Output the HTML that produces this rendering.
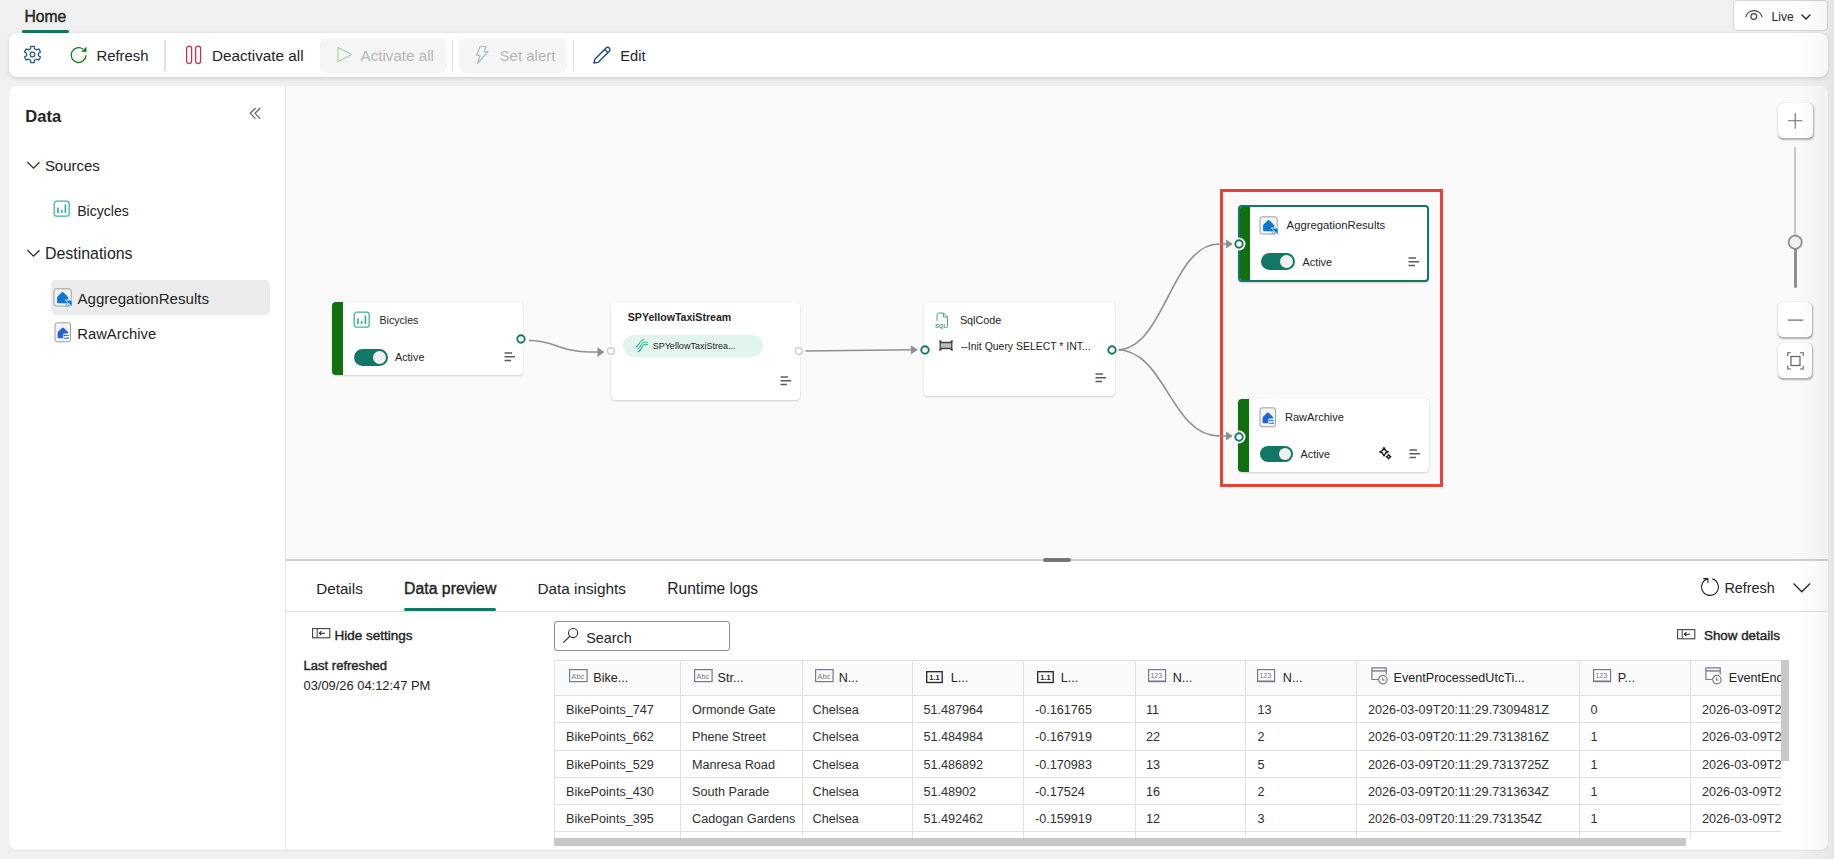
<!DOCTYPE html>
<html><head><meta charset="utf-8"><style>
html,body{margin:0;padding:0;}
body{width:1834px;height:859px;overflow:hidden;background:#f0f0f0;position:relative;font-family:"Liberation Sans", sans-serif;}
.a{position:absolute;}
.t{position:absolute;white-space:nowrap;line-height:1;}
svg.a{overflow:visible;}
</style></head><body>
<div class="t" style="left:24.5px;top:9px;font-size:15.7px;-webkit-text-stroke:0.4px #242424;color:#242424;">Home</div>
<div class="a" style="left:22px;top:30px;width:47px;height:3px;background:#117865;border-radius:2px;"></div>
<div class="a" style="left:1733px;top:0px;width:95px;height:31px;background:#fff;border:1px solid #d6d6d6;box-sizing:border-box;border-radius:4px;"></div>
<svg class="a" style="left:1744px;top:8px;" width="20" height="14" viewBox="0 0 20 14"><path d="M1.7 9.2 A8.4 8.4 0 0 1 18.1 9.2" fill="none" stroke="#424242" stroke-width="1.15"/><circle cx="9.8" cy="8.5" r="2.9" fill="none" stroke="#424242" stroke-width="1.15"/></svg>
<div class="t" style="left:1771.6px;top:11px;font-size:12px;color:#242424;">Live</div>
<svg class="a" style="left:1800px;top:13px;" width="12" height="8" viewBox="0 0 12 8"><path d="M1.5 1.5 L6 6 L10.5 1.5" fill="none" stroke="#242424" stroke-width="1.3"/></svg>
<div class="a" style="left:9px;top:33px;width:1819px;height:44px;background:#fff;border-radius:8px;box-shadow:0 2px 4px rgba(0,0,0,0.10),0 0 2px rgba(0,0,0,0.08);"></div>
<svg class="a" style="left:22.1px;top:44.1px;" width="21" height="21" viewBox="0 0 21 21"><path d="M13.50 5.30 L12.45 4.83 L12.25 2.28 L8.75 2.28 L8.55 4.83 L7.50 5.30 L6.56 5.97 L4.26 4.88 L2.51 7.90 L4.61 9.36 L4.50 10.50 L4.61 11.64 L2.51 13.10 L4.26 16.12 L6.56 15.03 L7.50 15.70 L8.55 16.17 L8.75 18.72 L12.25 18.72 L12.45 16.17 L13.50 15.70 L14.44 15.03 L16.74 16.12 L18.49 13.10 L16.39 11.64 L16.50 10.50 L16.39 9.36 L18.49 7.90 L16.74 4.88 L14.44 5.97 Z" fill="none" stroke="#235891" stroke-width="1.25" stroke-linejoin="round"/><circle cx="10.5" cy="10.5" r="2.3" fill="none" stroke="#235891" stroke-width="1.25"/></svg>
<svg class="a" style="left:70.3px;top:46px;" width="18" height="18" viewBox="0 0 18 18"><path d="M16 9.4 A7.4 7.4 0 1 1 13.2 3.3" fill="none" stroke="#107c10" stroke-width="1.3"/><path d="M16.3 1.3 L16.1 5.7 L11.8 5.5 Z" fill="#107c10" stroke="#107c10" stroke-width="0.6" stroke-linejoin="round"/></svg>
<div class="t" style="left:96.4px;top:49px;font-size:14.9px;color:#242424;">Refresh</div>
<div class="a" style="left:164px;top:40px;width:2px;height:31px;background:#e0e0e0;"></div>
<svg class="a" style="left:185px;top:45px;" width="18" height="20" viewBox="0 0 18 20"><rect x="1.6" y="1.2" width="5" height="17.4" rx="2.5" fill="none" stroke="#c4314b" stroke-width="1.3"/><rect x="10.6" y="1.2" width="5" height="17.4" rx="2.5" fill="none" stroke="#c4314b" stroke-width="1.3"/></svg>
<div class="t" style="left:211.9px;top:48px;font-size:15.29px;color:#242424;">Deactivate all</div>
<div class="a" style="left:320px;top:38px;width:127px;height:35px;background:#f5f5f5;border-radius:6px;"></div>
<svg class="a" style="left:336px;top:46px;" width="18" height="18" viewBox="0 0 18 18"><path d="M2 1.5 L15.5 8.5 L2 15.8 Z" fill="none" stroke="#a3d3a3" stroke-width="1.1" stroke-linejoin="round"/></svg>
<div class="t" style="left:360.5px;top:48px;font-size:15.2px;color:#b5b5b5;">Activate all</div>
<div class="a" style="left:452px;top:40px;width:1px;height:31px;background:#e0e0e0;"></div>
<div class="a" style="left:459px;top:38px;width:108px;height:35px;background:#f5f5f5;border-radius:6px;"></div>
<svg class="a" style="left:474px;top:45px;" width="16" height="20" viewBox="0 0 16 20"><path d="M6 1.5 L12 1.5 L10.2 6.5 L14 6.5 L3.5 18.5 L6 10.5 L2.5 10.5 Z" fill="none" stroke="#a8bcd4" stroke-width="1.2" stroke-linejoin="round"/></svg>
<div class="t" style="left:499.6px;top:48px;font-size:15.0px;color:#b5b5b5;">Set alert</div>
<div class="a" style="left:573px;top:40px;width:1px;height:31px;background:#e0e0e0;"></div>
<svg class="a" style="left:592px;top:45px;" width="20" height="20" viewBox="0 0 20 20"><path d="M2 18 L2.8 14.2 L14.3 2.7 A2.3 2.3 0 0 1 17.5 5.9 L6 17.4 Z" fill="none" stroke="#1c4a82" stroke-width="1.4" stroke-linejoin="round"/><path d="M12.6 4.4 L15.8 7.6" stroke="#1c4a82" stroke-width="1.4"/></svg>
<div class="t" style="left:620.3px;top:49px;font-size:14.6px;color:#242424;">Edit</div>
<div class="a" style="left:9px;top:86px;width:1819px;height:764px;background:#fff;border-radius:8px;box-shadow:0 1px 1.5px rgba(0,0,0,0.06),0 0 1px rgba(0,0,0,0.05);"></div>
<div class="a" style="left:9px;top:86px;width:277px;height:764px;background:#fff;border-radius:8px 0 0 8px;border-right:1px solid #e3e3e3;box-sizing:border-box;"></div>
<div class="t" style="left:25.3px;top:108px;font-size:16.5px;font-weight:bold;color:#242424;">Data</div>
<svg class="a" style="left:248px;top:106px;" width="15" height="15" viewBox="0 0 15 15"><path d="M7.5 2 L2.3 7.3 L7.5 12.6 M12.2 2 L7 7.3 L12.2 12.6" fill="none" stroke="#616161" stroke-width="1.2"/></svg>
<svg class="a" style="left:26px;top:158.5px;" width="16" height="12" viewBox="0 0 16 12"><path d="M1.3 3 L7.5 9.2 L13.5 3.2" fill="none" stroke="#2b2b2b" stroke-width="1.25"/></svg>
<div class="t" style="left:44.9px;top:159px;font-size:14.96px;color:#242424;">Sources</div>
<svg class="a" style="left:53px;top:200px;" width="18" height="18" viewBox="0 0 18 18"><rect x="1.2" y="1.2" width="15" height="15" rx="2.5" fill="none" stroke="#3fb6a0" stroke-width="1.3"/><path d="M5 7.5 V13 M8.7 10 V13 M12.4 4.5 V13" stroke="#33a99a" stroke-width="1.6"/></svg>
<div class="t" style="left:77.2px;top:204px;font-size:14.1px;color:#242424;">Bicycles</div>
<svg class="a" style="left:26px;top:246.5px;" width="16" height="12" viewBox="0 0 16 12"><path d="M1.3 3 L7.5 9.2 L13.5 3.2" fill="none" stroke="#2b2b2b" stroke-width="1.25"/></svg>
<div class="t" style="left:44.9px;top:246px;font-size:15.94px;color:#242424;">Destinations</div>
<div class="a" style="left:51px;top:280px;width:219px;height:35px;background:#ebebeb;border-radius:5px;"></div>
<svg class="a" style="left:52.5px;top:287.5px;" width="21" height="21" viewBox="0 0 21 21"><rect x="1" y="0.8" width="17.2" height="17.2" rx="2.2" fill="#f3f3f3" stroke="#9e9e9e" stroke-width="1"/><path d="M4.1 9.8 Q4.1 8.9 4.8 8.2 L8.6 4.5 Q9.6 3.5 10.6 4.5 L14.4 8.2 Q15.1 8.9 15.1 9.8 V14.3 Q15.1 15.3 14.1 15.3 H5.1 Q4.1 15.3 4.1 14.3 Z" fill="#0a78d4"/><path d="M12.2 12 H19.2 V19 Z" fill="#0a78d4" stroke="#fff" stroke-width="0.8" stroke-linejoin="round"/><path d="M12.4 15.2 L14 16.8 L12.4 18.4 M14.6 15.2 L16.2 16.8 L14.6 18.4" fill="none" stroke="#2f8ee0" stroke-width="0.8"/></svg>
<div class="t" style="left:77.5px;top:291px;font-size:15.07px;color:#242424;">AggregationResults</div>
<svg class="a" style="left:53.5px;top:322px;" width="21" height="21" viewBox="0 0 21 21"><rect x="1" y="0.8" width="15.5" height="19" rx="2.2" fill="#f3f3f3" stroke="#9e9e9e" stroke-width="1"/><path d="M3.6 11 Q3.6 10.1 4.3 9.4 L7.9 6 Q8.9 5 9.9 6 L13.5 9.4 Q14.2 10.1 14.2 11 V15.2 Q14.2 16.2 13.2 16.2 H4.6 Q3.6 16.2 3.6 15.2 Z" fill="#2463d8"/><rect x="9.2" y="11.6" width="6" height="6.2" rx="1" fill="#fff"/><path d="M9.8 13.4 H14.8 M9.8 16.2 H14.8" stroke="#2463d8" stroke-width="1"/><path d="M10.4 12.6 V14.2 M13.8 15.4 V17" stroke="#2463d8" stroke-width="0.8"/></svg>
<div class="t" style="left:77.3px;top:327px;font-size:14.79px;color:#242424;">RawArchive</div>
<div class="a" style="left:286px;top:86px;width:1542px;height:473px;background:#fafafa;border-radius:0 8px 0 0;"></div>
<div class="a" style="left:332px;top:302px;width:191px;height:73px;background:#fff;border-radius:4px;box-shadow:0 1px 2px rgba(0,0,0,0.16),0 0 1px rgba(0,0,0,0.10);"></div>
<div class="a" style="left:332px;top:302px;width:11px;height:73px;background:#107010;border-radius:4px 0 0 4px;"></div>
<svg class="a" style="left:353px;top:311px;" width="18" height="18" viewBox="0 0 18 18"><rect x="1.2" y="1.2" width="15" height="15" rx="2.5" fill="none" stroke="#3fb6a0" stroke-width="1.3"/><path d="M5 7.5 V13 M8.7 10 V13 M12.4 4.5 V13" stroke="#33a99a" stroke-width="1.6"/></svg>
<div class="t" style="left:379.5px;top:315px;font-size:10.6px;color:#242424;">Bicycles</div>
<div class="a" style="left:354px;top:349px;width:34px;height:17px;background:#117865;border-radius:9px;"></div>
<div class="a" style="left:373px;top:351px;width:13px;height:13px;background:#f0f0f0;border-radius:50%;"></div>
<div class="t" style="left:395.0px;top:352px;font-size:10.8px;color:#242424;">Active</div>
<svg class="a" style="left:504px;top:352px;" width="12" height="10" viewBox="0 0 12 10"><path d="M0.5 1 H8 M0.5 4.7 H11 M0.5 8.4 H7" stroke="#5c5c5c" stroke-width="1.5"/></svg>
<div class="a" style="left:611px;top:302px;width:189px;height:98px;background:#fff;border-radius:4px;box-shadow:0 1px 2px rgba(0,0,0,0.16),0 0 1px rgba(0,0,0,0.10);"></div>
<div class="t" style="left:627.8px;top:312px;font-size:10.6px;font-weight:bold;color:#242424;">SPYellowTaxiStream</div>
<div class="a" style="left:623px;top:335px;width:140px;height:22px;background:#e2f4ee;border-radius:11px;"></div>
<svg class="a" style="left:630px;top:336px;" width="20" height="20" viewBox="0 0 20 20"><defs><linearGradient id="sg" x1="0" y1="0" x2="0" y2="1"><stop offset="0" stop-color="#2cc78a"/><stop offset="1" stop-color="#1ea5a5"/></linearGradient></defs><g fill="none" stroke="url(#sg)" stroke-width="1.1" stroke-linecap="round"><path d="M6 11 C8.6 11, 9.2 3.9, 14 3.8"/><path d="M8 13 C10.6 12.6, 11 6.3, 13.5 6.3 L17.6 6.3"/><path d="M8.2 15.6 C11.4 15.2, 12.3 8.5, 14.5 8.5 L17.6 8.5"/></g></svg>
<div class="t" style="left:652.7px;top:342px;font-size:9.0px;color:#242424;">SPYellowTaxiStrea...</div>
<svg class="a" style="left:780px;top:376px;" width="12" height="10" viewBox="0 0 12 10"><path d="M0.5 1 H8 M0.5 4.7 H11 M0.5 8.4 H7" stroke="#5c5c5c" stroke-width="1.5"/></svg>
<div class="a" style="left:924px;top:302px;width:191px;height:94px;background:#fff;border-radius:4px;box-shadow:0 1px 2px rgba(0,0,0,0.16),0 0 1px rgba(0,0,0,0.10);"></div>
<svg class="a" style="left:934px;top:312px;" width="16" height="17" viewBox="0 0 16 17"><path d="M3 9 V2.5 Q3 1, 4.5 1 H9.5 L13.5 5 V14.5 Q13.5 15.5, 12.5 15.5 H12" fill="none" stroke="#45a597" stroke-width="1"/><path d="M9.5 1 V5 H13.5" fill="none" stroke="#45a597" stroke-width="1"/><text x="1" y="15.6" font-size="5.8" font-family="Liberation Sans" font-weight="bold" fill="#3a9d8f">SQL</text></svg>
<div class="t" style="left:959.9px;top:315px;font-size:10.8px;color:#242424;">SqlCode</div>
<svg class="a" style="left:938px;top:340px;" width="16" height="11" viewBox="0 0 16 11"><rect x="2" y="2.5" width="12" height="6" fill="#bdbdbd"/><path d="M2.2 1 V10 M13.8 1 V10 M1 1.2 H3.5 M1 9.8 H3.5 M12.5 1.2 H15 M12.5 9.8 H15 M2.2 2.5 H13.8 M2.2 8.5 H13.8" fill="none" stroke="#424242" stroke-width="1.3"/></svg>
<div class="t" style="left:960.9px;top:342px;font-size:10.45px;color:#242424;">--Init Query SELECT * INT...</div>
<svg class="a" style="left:1095px;top:373px;" width="12" height="10" viewBox="0 0 12 10"><path d="M0.5 1 H8 M0.5 4.7 H11 M0.5 8.4 H7" stroke="#5c5c5c" stroke-width="1.5"/></svg>
<div class="a" style="left:1238px;top:205px;width:191px;height:77px;background:#fff;border-radius:4px;border:2px solid #117865;box-sizing:border-box;box-shadow:0 1px 2px rgba(0,0,0,0.16),0 0 1px rgba(0,0,0,0.10);"></div>
<div class="a" style="left:1240px;top:207px;width:10px;height:73px;background:#107010;border-radius:2px 0 0 2px;"></div>
<svg class="a" style="left:1259px;top:215.6px;" width="21" height="21" viewBox="0 0 21 21"><rect x="1" y="0.8" width="17.2" height="17.2" rx="2.2" fill="#f3f3f3" stroke="#9e9e9e" stroke-width="1"/><path d="M4.1 9.8 Q4.1 8.9 4.8 8.2 L8.6 4.5 Q9.6 3.5 10.6 4.5 L14.4 8.2 Q15.1 8.9 15.1 9.8 V14.3 Q15.1 15.3 14.1 15.3 H5.1 Q4.1 15.3 4.1 14.3 Z" fill="#0a78d4"/><path d="M12.2 12 H19.2 V19 Z" fill="#0a78d4" stroke="#fff" stroke-width="0.8" stroke-linejoin="round"/><path d="M12.4 15.2 L14 16.8 L12.4 18.4 M14.6 15.2 L16.2 16.8 L14.6 18.4" fill="none" stroke="#2f8ee0" stroke-width="0.8"/></svg>
<div class="t" style="left:1286.6px;top:220px;font-size:11.3px;color:#242424;">AggregationResults</div>
<div class="a" style="left:1261px;top:253px;width:34px;height:17px;background:#117865;border-radius:9px;"></div>
<div class="a" style="left:1280px;top:255px;width:13px;height:13px;background:#f0f0f0;border-radius:50%;"></div>
<div class="t" style="left:1302.6px;top:257px;font-size:10.8px;color:#242424;">Active</div>
<svg class="a" style="left:1408px;top:257px;" width="12" height="10" viewBox="0 0 12 10"><path d="M0.5 1 H8 M0.5 4.7 H11 M0.5 8.4 H7" stroke="#5c5c5c" stroke-width="1.5"/></svg>
<div class="a" style="left:1238px;top:399px;width:191px;height:73px;background:#fff;border-radius:4px;box-shadow:0 1px 2px rgba(0,0,0,0.16),0 0 1px rgba(0,0,0,0.10);"></div>
<div class="a" style="left:1238px;top:399px;width:11px;height:73px;background:#107010;border-radius:4px 0 0 4px;"></div>
<svg class="a" style="left:1258.5px;top:406.5px;" width="21" height="21" viewBox="0 0 21 21"><rect x="1" y="0.8" width="15.5" height="19" rx="2.2" fill="#f3f3f3" stroke="#9e9e9e" stroke-width="1"/><path d="M3.6 11 Q3.6 10.1 4.3 9.4 L7.9 6 Q8.9 5 9.9 6 L13.5 9.4 Q14.2 10.1 14.2 11 V15.2 Q14.2 16.2 13.2 16.2 H4.6 Q3.6 16.2 3.6 15.2 Z" fill="#2463d8"/><rect x="9.2" y="11.6" width="6" height="6.2" rx="1" fill="#fff"/><path d="M9.8 13.4 H14.8 M9.8 16.2 H14.8" stroke="#2463d8" stroke-width="1"/><path d="M10.4 12.6 V14.2 M13.8 15.4 V17" stroke="#2463d8" stroke-width="0.8"/></svg>
<div class="t" style="left:1285.0px;top:412px;font-size:11.06px;color:#242424;">RawArchive</div>
<div class="a" style="left:1260px;top:445.6px;width:33px;height:16.5px;background:#117865;border-radius:9px;"></div>
<div class="a" style="left:1278.5px;top:447.6px;width:12.5px;height:12.5px;background:#f0f0f0;border-radius:50%;"></div>
<div class="t" style="left:1300.6px;top:449px;font-size:10.8px;color:#242424;">Active</div>
<svg class="a" style="left:1379px;top:446px;" width="13" height="14" viewBox="0 0 13 14"><path d="M5 1.6 L6.6 4.6 L9.2 5.8 L6.6 7.0 L5 10 L3.4 7.0 L0.8 5.8 L3.4 4.6 Z" fill="none" stroke="#1a1a1a" stroke-width="1.4" stroke-linejoin="round"/><path d="M9.6 8.6 L10.6 10 L11.9 10.7 L10.6 11.4 L9.6 12.8 L8.6 11.4 L7.3 10.7 L8.6 10 Z" fill="none" stroke="#1a1a1a" stroke-width="1.3" stroke-linejoin="round"/></svg>
<svg class="a" style="left:1409px;top:449px;" width="12" height="10" viewBox="0 0 12 10"><path d="M0.5 1 H8 M0.5 4.7 H11 M0.5 8.4 H7" stroke="#5c5c5c" stroke-width="1.5"/></svg>
<div class="a" style="left:1220px;top:189px;width:223px;height:298px;border:3px solid #e8433b;box-sizing:border-box;"></div>
<svg class="a" style="left:0;top:0" width="1834" height="859"><g fill="none" stroke="#8f8f8f" stroke-width="1.6"><path d="M529 340.5 C555 340.5, 560 352, 590 352 L600 352"/><path d="M804 351 L915 349.8"/><path d="M1117 349.7 C1165 349.7, 1171 244, 1219 244 L1228 244"/><path d="M1117 349.7 C1165 349.7, 1171 436, 1219 436 L1228 436"/></g><g fill="#8f8f8f"><path d="M597.5 347.3 L604.2 352.1 L597.5 356.9 Z"/><path d="M911 345.5 L918 349.8 L911 354.3 Z"/><path d="M1226 239.5 L1233 244 L1226 248.5 Z"/><path d="M1226 431.5 L1233 436 L1226 440.5 Z"/></g></svg>
<svg class="a" style="left:514.2px;top:332.2px;" width="14" height="14" viewBox="0 0 14 14"><circle cx="7" cy="7" r="6.5" fill="#fff"/><circle cx="7" cy="7" r="3.7" fill="#fff" stroke="#117865" stroke-width="1.9"/></svg>
<svg class="a" style="left:603.7px;top:344px;" width="14" height="14" viewBox="0 0 14 14"><circle cx="7" cy="7" r="6.5" fill="#fff"/><circle cx="7" cy="7" r="3.45" fill="#fff" stroke="#c8c8c8" stroke-width="1.3"/></svg>
<svg class="a" style="left:791.5px;top:344.1px;" width="14" height="14" viewBox="0 0 14 14"><circle cx="7" cy="7" r="6.5" fill="#fff"/><circle cx="7" cy="7" r="3.45" fill="#fff" stroke="#c8c8c8" stroke-width="1.3"/></svg>
<svg class="a" style="left:917.8px;top:342.7px;" width="14" height="14" viewBox="0 0 14 14"><circle cx="7" cy="7" r="6.5" fill="#fff"/><circle cx="7" cy="7" r="3.7" fill="#fff" stroke="#117865" stroke-width="1.9"/></svg>
<svg class="a" style="left:1105.4px;top:342.7px;" width="14" height="14" viewBox="0 0 14 14"><circle cx="7" cy="7" r="6.5" fill="#fff"/><circle cx="7" cy="7" r="3.7" fill="#fff" stroke="#117865" stroke-width="1.9"/></svg>
<svg class="a" style="left:1232.2px;top:236.8px;" width="14" height="14" viewBox="0 0 14 14"><circle cx="7" cy="7" r="6.5" fill="#fff"/><circle cx="7" cy="7" r="3.7" fill="#fff" stroke="#117865" stroke-width="1.9"/></svg>
<svg class="a" style="left:1232.3px;top:429.6px;" width="14" height="14" viewBox="0 0 14 14"><circle cx="7" cy="7" r="6.5" fill="#fff"/><circle cx="7" cy="7" r="3.7" fill="#fff" stroke="#117865" stroke-width="1.9"/></svg>
<div class="a" style="left:1778px;top:103px;width:35px;height:35px;background:#fff;border-radius:5px;box-shadow:0.5px 1.2px 2px rgba(0,0,0,0.30),0 0 1px rgba(0,0,0,0.12);"></div>
<svg class="a" style="left:1786px;top:111px;" width="18" height="18" viewBox="0 0 18 18"><path d="M9.2 2 V17.8 M2 9.8 H16.3" stroke="#6b6b6b" stroke-width="1.1"/></svg>
<div class="a" style="left:1794px;top:147px;width:2px;height:89px;background:#c8c8c8;"></div>
<div class="a" style="left:1793.7px;top:247px;width:3.0px;height:41px;background:#8f8f8f;border-radius:1.5px;"></div>
<svg class="a" style="left:1787px;top:234px;" width="17" height="17" viewBox="0 0 17 17"><circle cx="8.2" cy="8.2" r="6.6" fill="#f0f0f0" stroke="#8f8f8f" stroke-width="1.8"/></svg>
<div class="a" style="left:1778px;top:302px;width:34px;height:35px;background:#fff;border-radius:5px;box-shadow:0.5px 1.2px 2px rgba(0,0,0,0.30),0 0 1px rgba(0,0,0,0.12);"></div>
<svg class="a" style="left:1786px;top:311px;" width="18" height="18" viewBox="0 0 18 18"><path d="M1.7 9.1 H17.2" stroke="#6b6b6b" stroke-width="1.2"/></svg>
<div class="a" style="left:1778px;top:343px;width:34px;height:35px;background:#fff;border-radius:5px;box-shadow:0.5px 1.2px 2px rgba(0,0,0,0.30),0 0 1px rgba(0,0,0,0.12);"></div>
<svg class="a" style="left:1786px;top:351px;" width="18" height="19" viewBox="0 0 18 19"><path d="M1.7 5 V1.8 H4.9 M14 1.8 H17.2 V5 M17.2 14.8 V18 H14 M4.9 18 H1.7 V14.8" fill="none" stroke="#616161" stroke-width="1.1"/><rect x="5" y="5.5" width="9" height="9" fill="none" stroke="#616161" stroke-width="1.2"/></svg>
<div class="a" style="left:286px;top:559px;width:1542px;height:2px;background:#d1d1d1;"></div>
<div class="a" style="left:286px;top:561px;width:1542px;height:289px;background:#fff;border-radius:0 0 8px 0;"></div>
<div class="a" style="left:1043px;top:557px;width:28px;height:6px;background:#fff;border-radius:3px;"></div>
<div class="a" style="left:1043px;top:558px;width:28px;height:4px;background:#757575;border-radius:2px;"></div>
<div class="t" style="left:316.2px;top:581px;font-size:15.24px;color:#242424;">Details</div>
<div class="t" style="left:404.1px;top:581px;font-size:15.81px;-webkit-text-stroke:0.4px #242424;color:#242424;">Data preview</div>
<div class="t" style="left:537.4px;top:581px;font-size:15.33px;color:#242424;">Data insights</div>
<div class="t" style="left:667.3px;top:581px;font-size:15.57px;color:#242424;">Runtime logs</div>
<div class="a" style="left:404px;top:608px;width:92px;height:3px;background:#117865;border-radius:2px;"></div>
<div class="a" style="left:286px;top:611px;width:1542px;height:1px;background:#e0e0e0;"></div>
<svg class="a" style="left:1700px;top:577px;" width="20" height="20" viewBox="0 0 20 20"><path d="M12.4 1.9 A8.4 8.4 0 1 1 7.6 1.9" fill="none" stroke="#242424" stroke-width="1.1"/><path d="M3.3 1.6 H7.9 V5.9" fill="none" stroke="#242424" stroke-width="1.1"/></svg>
<div class="t" style="left:1724.4px;top:581px;font-size:14.4px;color:#242424;">Refresh</div>
<svg class="a" style="left:1792px;top:582px;" width="20" height="12" viewBox="0 0 20 12"><path d="M1.5 1.5 L9.8 9.8 L18.1 1.5" fill="none" stroke="#242424" stroke-width="1.3"/></svg>
<svg class="a" style="left:311.5px;top:628px;" width="20" height="12" viewBox="0 0 20 12"><rect x="0.6" y="0.6" width="17.2" height="9.2" fill="none" stroke="#424242" stroke-width="1.1"/><path d="M5.2 0.6 V9.8" stroke="#424242" stroke-width="1"/><path d="M13 5.2 H7.4 M9.4 3.2 L7.4 5.2 L9.4 7.2" fill="none" stroke="#242424" stroke-width="1.1"/></svg>
<div class="t" style="left:334.4px;top:629px;font-size:13.5px;-webkit-text-stroke:0.4px #242424;color:#242424;">Hide settings</div>
<div class="t" style="left:303.5px;top:659px;font-size:13.05px;-webkit-text-stroke:0.4px #242424;color:#242424;">Last refreshed</div>
<div class="t" style="left:303.5px;top:680px;font-size:12.9px;color:#242424;">03/09/26 04:12:47 PM</div>
<div class="a" style="left:554px;top:621px;width:176px;height:30px;border:1px solid #8a8a8a;border-radius:3px;box-sizing:border-box;background:#fff;"></div>
<svg class="a" style="left:562px;top:626px;" width="18" height="18" viewBox="0 0 18 18"><circle cx="11.1" cy="7" r="4.6" fill="none" stroke="#242424" stroke-width="1.05"/><path d="M7.8 10.3 L1.3 16.7" stroke="#242424" stroke-width="1.1"/></svg>
<div class="t" style="left:586.2px;top:631px;font-size:14.4px;color:#242424;">Search</div>
<svg class="a" style="left:1677px;top:629px;" width="20" height="12" viewBox="0 0 20 12"><rect x="0.6" y="0.6" width="17.2" height="9.2" fill="none" stroke="#424242" stroke-width="1.1"/><path d="M5.2 0.6 V9.8" stroke="#424242" stroke-width="1"/><path d="M13 5.2 H7.4 M9.4 3.2 L7.4 5.2 L9.4 7.2" fill="none" stroke="#242424" stroke-width="1.1"/></svg>
<div class="t" style="left:1704.0px;top:629px;font-size:13.38px;-webkit-text-stroke:0.4px #242424;color:#242424;">Show details</div>
<div class="a" style="left:554px;top:660px;width:1227px;height:178px;overflow:hidden;">
<div class="a" style="left:0px;top:0px;width:1300px;height:36px;background:#fafafa;"></div>
<div class="a" style="left:0px;top:0px;width:1px;height:178px;background:#e0e0e0;"></div>
<div class="a" style="left:126px;top:0px;width:1px;height:178px;background:#e0e0e0;"></div>
<div class="a" style="left:248px;top:0px;width:1px;height:178px;background:#e0e0e0;"></div>
<div class="a" style="left:358px;top:0px;width:1px;height:178px;background:#e0e0e0;"></div>
<div class="a" style="left:469px;top:0px;width:1px;height:178px;background:#e0e0e0;"></div>
<div class="a" style="left:581px;top:0px;width:1px;height:178px;background:#e0e0e0;"></div>
<div class="a" style="left:691px;top:0px;width:1px;height:178px;background:#e0e0e0;"></div>
<div class="a" style="left:802px;top:0px;width:1px;height:178px;background:#e0e0e0;"></div>
<div class="a" style="left:1025px;top:0px;width:1px;height:178px;background:#e0e0e0;"></div>
<div class="a" style="left:1136px;top:0px;width:1px;height:178px;background:#e0e0e0;"></div>
<div class="a" style="left:0px;top:0px;width:1300px;height:1px;background:#e0e0e0;"></div>
<div class="a" style="left:0px;top:35px;width:1300px;height:1px;background:#e0e0e0;"></div>
<div class="a" style="left:0px;top:62px;width:1300px;height:1px;background:#e0e0e0;"></div>
<div class="a" style="left:0px;top:90px;width:1300px;height:1px;background:#e0e0e0;"></div>
<div class="a" style="left:0px;top:117px;width:1300px;height:1px;background:#e0e0e0;"></div>
<div class="a" style="left:0px;top:144px;width:1300px;height:1px;background:#e0e0e0;"></div>
<div class="a" style="left:0px;top:171px;width:1300px;height:1px;background:#e0e0e0;"></div>
<svg class="a" style="left:14.5px;top:9px;" width="19" height="14" viewBox="0 0 19 14"><rect x="0.6" y="0.6" width="17.5" height="12" fill="none" stroke="#737b8c" stroke-width="1.2"/><text x="2.6" y="9.6" font-size="7.2" font-family="Liberation Sans" fill="#737b8c">Abc</text></svg>
<div class="t" style="left:39.3px;top:12px;font-size:12.6px;color:#242424;">Bike...</div>
<svg class="a" style="left:139.5px;top:9px;" width="19" height="14" viewBox="0 0 19 14"><rect x="0.6" y="0.6" width="17.5" height="12" fill="none" stroke="#737b8c" stroke-width="1.2"/><text x="2.6" y="9.6" font-size="7.2" font-family="Liberation Sans" fill="#737b8c">Abc</text></svg>
<div class="t" style="left:163.6px;top:12px;font-size:12.6px;color:#242424;">Str...</div>
<svg class="a" style="left:260.5px;top:9px;" width="19" height="14" viewBox="0 0 19 14"><rect x="0.6" y="0.6" width="17.5" height="12" fill="none" stroke="#737b8c" stroke-width="1.2"/><text x="2.6" y="9.6" font-size="7.2" font-family="Liberation Sans" fill="#737b8c">Abc</text></svg>
<div class="t" style="left:284.7px;top:12px;font-size:12.6px;color:#242424;">N...</div>
<svg class="a" style="left:372px;top:11px;" width="18" height="13" viewBox="0 0 18 13"><rect x="0.7" y="0.7" width="15.5" height="10.8" fill="none" stroke="#242424" stroke-width="1.3"/><text x="3.3" y="9" font-size="7.4" font-family="Liberation Sans" font-weight="bold" fill="#242424">1.1</text></svg>
<div class="t" style="left:396.8px;top:12px;font-size:12.6px;color:#242424;">L...</div>
<svg class="a" style="left:482.5px;top:11px;" width="18" height="13" viewBox="0 0 18 13"><rect x="0.7" y="0.7" width="15.5" height="10.8" fill="none" stroke="#242424" stroke-width="1.3"/><text x="3.3" y="9" font-size="7.4" font-family="Liberation Sans" font-weight="bold" fill="#242424">1.1</text></svg>
<div class="t" style="left:506.8px;top:12px;font-size:12.6px;color:#242424;">L...</div>
<svg class="a" style="left:593.5px;top:9px;" width="19" height="14" viewBox="0 0 19 14"><rect x="0.6" y="0.6" width="17" height="12" fill="none" stroke="#737b8c" stroke-width="1.2"/><path d="M0.6 12.2 H17.6" stroke="#737b8c" stroke-width="1.4"/><text x="2.4" y="9.2" font-size="7.0" font-family="Liberation Sans" fill="#737b8c">123</text></svg>
<div class="t" style="left:618.7px;top:12px;font-size:12.6px;color:#242424;">N...</div>
<svg class="a" style="left:703px;top:9px;" width="19" height="14" viewBox="0 0 19 14"><rect x="0.6" y="0.6" width="17" height="12" fill="none" stroke="#737b8c" stroke-width="1.2"/><path d="M0.6 12.2 H17.6" stroke="#737b8c" stroke-width="1.4"/><text x="2.4" y="9.2" font-size="7.0" font-family="Liberation Sans" fill="#737b8c">123</text></svg>
<div class="t" style="left:728.8px;top:12px;font-size:12.6px;color:#242424;">N...</div>
<svg class="a" style="left:816.5px;top:7px;" width="19" height="19" viewBox="0 0 19 19"><path d="M9 12.5 H0.9 V0.9 H15.2 V7.5" fill="none" stroke="#737b8c" stroke-width="1.2"/><path d="M0.9 3.9 H15.2" stroke="#737b8c" stroke-width="1.4"/><circle cx="11.9" cy="12.6" r="4.2" fill="#fafafa" stroke="#737b8c" stroke-width="1.2"/><path d="M11.5 10.4 V13 H13.6" fill="none" stroke="#737b8c" stroke-width="1.1"/></svg>
<div class="t" style="left:839.6px;top:12px;font-size:12.6px;color:#242424;">EventProcessedUtcTi...</div>
<svg class="a" style="left:1038.5px;top:9px;" width="19" height="14" viewBox="0 0 19 14"><rect x="0.6" y="0.6" width="17" height="12" fill="none" stroke="#737b8c" stroke-width="1.2"/><path d="M0.6 12.2 H17.6" stroke="#737b8c" stroke-width="1.4"/><text x="2.4" y="9.2" font-size="7.0" font-family="Liberation Sans" fill="#737b8c">123</text></svg>
<div class="t" style="left:1063.8px;top:12px;font-size:12.6px;color:#242424;">P...</div>
<svg class="a" style="left:1150.5px;top:7px;" width="19" height="19" viewBox="0 0 19 19"><path d="M9 12.5 H0.9 V0.9 H15.2 V7.5" fill="none" stroke="#737b8c" stroke-width="1.2"/><path d="M0.9 3.9 H15.2" stroke="#737b8c" stroke-width="1.4"/><circle cx="11.9" cy="12.6" r="4.2" fill="#fafafa" stroke="#737b8c" stroke-width="1.2"/><path d="M11.5 10.4 V13 H13.6" fill="none" stroke="#737b8c" stroke-width="1.1"/></svg>
<div class="t" style="left:1174.8px;top:12px;font-size:12.6px;color:#242424;">EventEnqueuedUtcTime</div>
<div class="t" style="left:12.0px;top:44px;font-size:12.65px;color:#303030;">BikePoints_747</div>
<div class="t" style="left:138.0px;top:44px;font-size:12.65px;color:#303030;">Ormonde Gate</div>
<div class="t" style="left:258.5px;top:44px;font-size:12.65px;color:#303030;">Chelsea</div>
<div class="t" style="left:369.4px;top:44px;font-size:12.65px;color:#303030;">51.487964</div>
<div class="t" style="left:481.0px;top:44px;font-size:12.65px;color:#303030;">-0.161765</div>
<div class="t" style="left:592.0px;top:44px;font-size:12.65px;color:#303030;">11</div>
<div class="t" style="left:703.4px;top:44px;font-size:12.65px;color:#303030;">13</div>
<div class="t" style="left:814.0px;top:44px;font-size:12.65px;color:#303030;">2026-03-09T20:11:29.7309481Z</div>
<div class="t" style="left:1036.6px;top:44px;font-size:12.65px;color:#303030;">0</div>
<div class="t" style="left:1148.0px;top:44px;font-size:12.65px;color:#303030;">2026-03-09T20:11:29.7309481Z</div>
<div class="t" style="left:12.0px;top:71px;font-size:12.65px;color:#303030;">BikePoints_662</div>
<div class="t" style="left:138.0px;top:71px;font-size:12.65px;color:#303030;">Phene Street</div>
<div class="t" style="left:258.5px;top:71px;font-size:12.65px;color:#303030;">Chelsea</div>
<div class="t" style="left:369.4px;top:71px;font-size:12.65px;color:#303030;">51.484984</div>
<div class="t" style="left:481.0px;top:71px;font-size:12.65px;color:#303030;">-0.167919</div>
<div class="t" style="left:592.0px;top:71px;font-size:12.65px;color:#303030;">22</div>
<div class="t" style="left:703.4px;top:71px;font-size:12.65px;color:#303030;">2</div>
<div class="t" style="left:814.0px;top:71px;font-size:12.65px;color:#303030;">2026-03-09T20:11:29.7313816Z</div>
<div class="t" style="left:1036.6px;top:71px;font-size:12.65px;color:#303030;">1</div>
<div class="t" style="left:1148.0px;top:71px;font-size:12.65px;color:#303030;">2026-03-09T20:11:29.7313816Z</div>
<div class="t" style="left:12.0px;top:99px;font-size:12.65px;color:#303030;">BikePoints_529</div>
<div class="t" style="left:138.0px;top:99px;font-size:12.65px;color:#303030;">Manresa Road</div>
<div class="t" style="left:258.5px;top:99px;font-size:12.65px;color:#303030;">Chelsea</div>
<div class="t" style="left:369.4px;top:99px;font-size:12.65px;color:#303030;">51.486892</div>
<div class="t" style="left:481.0px;top:99px;font-size:12.65px;color:#303030;">-0.170983</div>
<div class="t" style="left:592.0px;top:99px;font-size:12.65px;color:#303030;">13</div>
<div class="t" style="left:703.4px;top:99px;font-size:12.65px;color:#303030;">5</div>
<div class="t" style="left:814.0px;top:99px;font-size:12.65px;color:#303030;">2026-03-09T20:11:29.7313725Z</div>
<div class="t" style="left:1036.6px;top:99px;font-size:12.65px;color:#303030;">1</div>
<div class="t" style="left:1148.0px;top:99px;font-size:12.65px;color:#303030;">2026-03-09T20:11:29.7313725Z</div>
<div class="t" style="left:12.0px;top:126px;font-size:12.65px;color:#303030;">BikePoints_430</div>
<div class="t" style="left:138.0px;top:126px;font-size:12.65px;color:#303030;">South Parade</div>
<div class="t" style="left:258.5px;top:126px;font-size:12.65px;color:#303030;">Chelsea</div>
<div class="t" style="left:369.4px;top:126px;font-size:12.65px;color:#303030;">51.48902</div>
<div class="t" style="left:481.0px;top:126px;font-size:12.65px;color:#303030;">-0.17524</div>
<div class="t" style="left:592.0px;top:126px;font-size:12.65px;color:#303030;">16</div>
<div class="t" style="left:703.4px;top:126px;font-size:12.65px;color:#303030;">2</div>
<div class="t" style="left:814.0px;top:126px;font-size:12.65px;color:#303030;">2026-03-09T20:11:29.7313634Z</div>
<div class="t" style="left:1036.6px;top:126px;font-size:12.65px;color:#303030;">1</div>
<div class="t" style="left:1148.0px;top:126px;font-size:12.65px;color:#303030;">2026-03-09T20:11:29.7313634Z</div>
<div class="t" style="left:12.0px;top:153px;font-size:12.65px;color:#303030;">BikePoints_395</div>
<div class="t" style="left:138.0px;top:153px;font-size:12.65px;color:#303030;">Cadogan Gardens</div>
<div class="t" style="left:258.5px;top:153px;font-size:12.65px;color:#303030;">Chelsea</div>
<div class="t" style="left:369.4px;top:153px;font-size:12.65px;color:#303030;">51.492462</div>
<div class="t" style="left:481.0px;top:153px;font-size:12.65px;color:#303030;">-0.159919</div>
<div class="t" style="left:592.0px;top:153px;font-size:12.65px;color:#303030;">12</div>
<div class="t" style="left:703.4px;top:153px;font-size:12.65px;color:#303030;">3</div>
<div class="t" style="left:814.0px;top:153px;font-size:12.65px;color:#303030;">2026-03-09T20:11:29.731354Z</div>
<div class="t" style="left:1036.6px;top:153px;font-size:12.65px;color:#303030;">1</div>
<div class="t" style="left:1148.0px;top:153px;font-size:12.65px;color:#303030;">2026-03-09T20:11:29.731354Z</div>
</div>
<div class="a" style="left:1781px;top:660px;width:8px;height:101px;background:#c8c8c8;"></div>
<div class="a" style="left:554px;top:838px;width:1132px;height:8px;background:#c8c8c8;"></div>
<div class="a" style="left:1795px;top:0px;width:39px;height:859px;background:linear-gradient(to right, rgba(0,0,0,0), rgba(0,0,0,0.045));pointer-events:none;"></div>
</body></html>
